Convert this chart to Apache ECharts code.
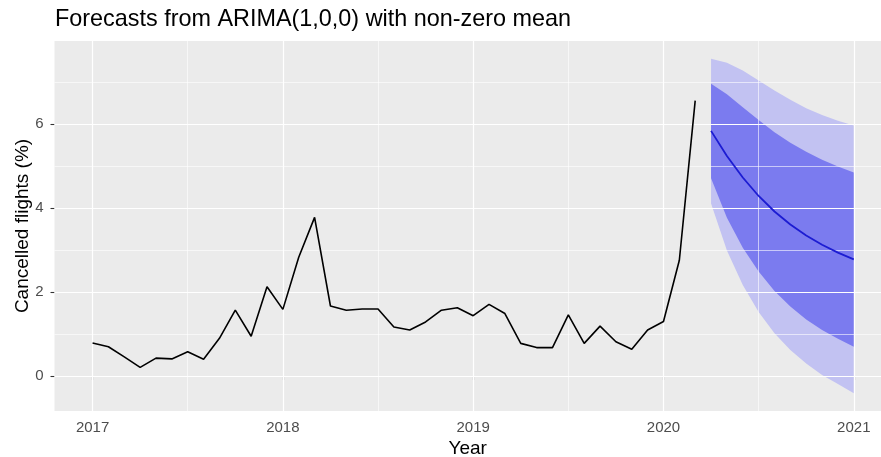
<!DOCTYPE html>
<html>
<head>
<meta charset="utf-8">
<script src="https://cdn.jsdelivr.net/npm/echarts@6/dist/echarts.min.js"></script>
<style>
  html, body { margin: 0; padding: 0; background: #fff; }
  #chart { width: 881px; height: 457px; }
</style>
</head>
<body>
<div id="chart"></div>
<script>
// Monthly share of cancelled flights, Jan 2017 - Mar 2020 (%)
const histStart = 2017;
const cancelled = [
  0.79, 0.70, 0.46, 0.21, 0.43, 0.41, 0.58, 0.40, 0.90, 1.57, 0.95, 2.13,
  1.59, 2.83, 3.78, 1.67, 1.57, 1.60, 1.60, 1.17, 1.10, 1.29, 1.57, 1.63,
  1.44, 1.71, 1.49, 0.78, 0.68, 0.68, 1.46, 0.78, 1.19, 0.82, 0.64, 1.10,
  1.30, 2.76, 6.56
];

// ARIMA(1,0,0) forecasts, Apr 2020 - Jan 2021
const fcStart = 2020 + 3 / 12;
const fcMean = [5.84, 5.24, 4.73, 4.29, 3.92, 3.61, 3.35, 3.13, 2.94, 2.78];
const lo80 = [4.71, 3.77, 3.06, 2.49, 2.03, 1.66, 1.35, 1.10, 0.89, 0.70];
const hi80 = [6.96, 6.71, 6.40, 6.10, 5.81, 5.56, 5.34, 5.15, 4.99, 4.85];
const lo95 = [4.11, 2.99, 2.17, 1.53, 1.02, 0.62, 0.30, 0.03, -0.19, -0.41];
const hi95 = [7.56, 7.46, 7.28, 7.04, 6.80, 6.58, 6.38, 6.22, 6.08, 5.97];

// Axis ticks and grid lines
const xTicks = [2017, 2018, 2019, 2020, 2021];
const xMinor = [2017.5, 2018.5, 2019.5, 2020.5];
const yTicks = [0, 2, 4, 6];
const yMinor = [1, 3, 5, 7];

const FONT = '"Liberation Sans", Arial, Helvetica, sans-serif';

const histData = cancelled.map((v, i) => [histStart + i / 12, v]);
const fcTime = fcMean.map((_, i) => fcStart + i / 12);
const meanData = fcMean.map((v, i) => [fcTime[i], v]);
const band95 = fcTime.map((t, i) => [t, lo95[i], hi95[i]]);
const band80 = fcTime.map((t, i) => [t, lo80[i], hi80[i]]);

// Draws a whole prediction interval as one polygon
function bandSeries(data, color, z) {
  return {
    type: 'custom',
    z: z,
    silent: true,
    data: data,
    encode: { x: 0, y: [1, 2] },
    renderItem: function (params, api) {
      if (params.dataIndex !== 0) return null;
      const pts = [];
      for (let i = 0; i < data.length; i++) pts.push(api.coord([data[i][0], data[i][2]]));
      for (let i = data.length - 1; i >= 0; i--) pts.push(api.coord([data[i][0], data[i][1]]));
      return { type: 'polygon', shape: { points: pts }, style: { fill: color } };
    }
  };
}

function gridLines(xs, ys, width) {
  return {
    type: 'line',
    data: [],
    z: 1,
    silent: true,
    markLine: {
      silent: true,
      symbol: 'none',
      label: { show: false },
      animation: false,
      lineStyle: { color: '#ffffff', width: width, type: 'solid' },
      data: xs.map(v => ({ xAxis: v })).concat(ys.map(v => ({ yAxis: v })))
    }
  };
}

const chart = echarts.init(document.getElementById('chart'), null, { renderer: 'canvas' });
chart.setOption({
  animation: false,
  backgroundColor: '#ffffff',
  title: {
    text: 'Forecasts from ARIMA(1,0,0) with non-zero mean',
    left: 50,
    top: 3,
    textStyle: { fontFamily: FONT, fontSize: 23.4, fontWeight: 'normal', color: '#000000' }
  },
  grid: {
    left: 54.5, right: 0, top: 41, bottom: 46,
    outerBoundsMode: 'none',
    containLabel: false,
    show: true, backgroundColor: '#EBEBEB', borderWidth: 0
  },
  xAxis: {
    type: 'value',
    min: 2016.8,
    max: 2021.143,
    name: 'Year',
    nameLocation: 'middle',
    nameGap: 28,
    nameMoveOverlap: false,
    nameTextStyle: { fontFamily: FONT, fontSize: 19, color: '#000000' },
    axisLine: { show: false },
    axisTick: { show: true, customValues: xTicks, length: 4, lineStyle: { color: '#333333', width: 1.1 } },
    axisLabel: {
      customValues: xTicks,
      margin: 9,
      fontFamily: FONT, fontSize: 15, color: '#4D4D4D',
      formatter: v => String(Math.round(v))
    },
    splitLine: { show: false }
  },
  yAxis: {
    type: 'value',
    min: -0.83,
    max: 7.98,
    name: 'Cancelled flights (%)',
    nameLocation: 'middle',
    nameRotate: 90,
    nameGap: 22,
    nameMoveOverlap: false,
    nameTextStyle: { fontFamily: FONT, fontSize: 19, color: '#000000' },
    axisLine: { show: false },
    axisTick: { show: true, customValues: yTicks, length: 4, lineStyle: { color: '#333333', width: 1.1 } },
    axisLabel: {
      customValues: yTicks,
      margin: 11,
      fontFamily: FONT, fontSize: 15, color: '#4D4D4D'
    },
    splitLine: { show: false }
  },
  series: [
    gridLines(xMinor, yMinor, 0.6),
    gridLines(xTicks, yTicks, 1.2),
    bandSeries(band95, '#C2C2F2', 3),
    bandSeries(band80, '#7B7BEF', 4),
    {
      type: 'line',
      z: 5,
      data: histData,
      showSymbol: false,
      silent: true,
      lineStyle: { color: '#000000', width: 1.6 }
    },
    {
      type: 'line',
      z: 6,
      data: meanData,
      showSymbol: false,
      silent: true,
      lineStyle: { color: '#1C1CD2', width: 1.8 }
    }
  ]
});
</script>
</body>
</html>
